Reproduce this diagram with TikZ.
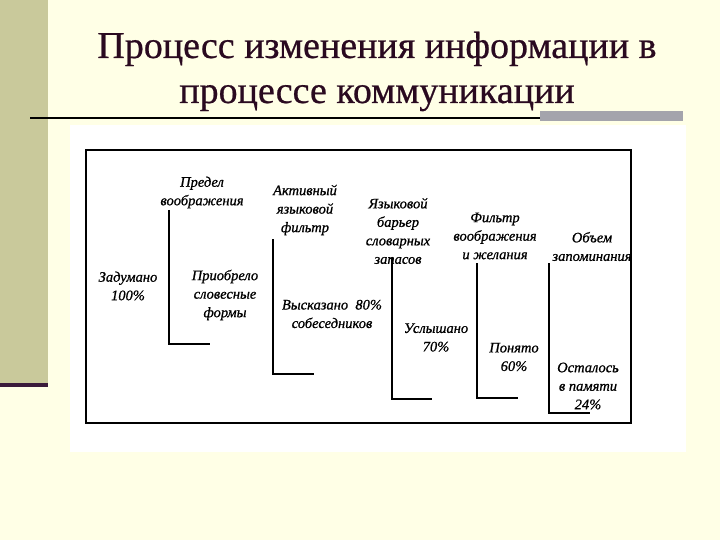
\documentclass[tikz,border=0pt]{standalone}
\usepackage{fontspec}
\setmainfont{Liberation Serif}
\newfontfamily\ttlfont{Liberation Serif}[FakeBold=0.6]
\newfontfamily\lblfont{Liberation Serif}[ItalicFeatures={FakeBold=0.9}]
\definecolor{bgcol}{HTML}{FFFFE6}
\definecolor{stripcol}{HTML}{C9C99B}
\definecolor{stripline}{HTML}{3A1A3A}
\definecolor{titlecol}{HTML}{2A0A20}
\definecolor{barcol}{HTML}{A4A4AC}
\tikzset{
  lbl/.style={font=\lblfont\itshape\fontsize{14.5}{18.5}\selectfont, align=center, inner sep=0pt},
  ttl/.style={font=\ttlfont\fontsize{38}{45}\selectfont, text=titlecol, inner sep=0pt, anchor=base},
  brk/.style={line width=1.7pt, line cap=butt},
}
\begin{document}
\begin{tikzpicture}[x=1pt,y=-1pt]
\useasboundingbox (0,0) rectangle (720,540);
\fill[bgcol] (0,0) rectangle (720,540);
\fill[stripcol] (0,0) rectangle (48,383);
\fill[stripline] (0,383) rectangle (48,387);
% title
\node[ttl] (t1) at (377,58) {Процесс изменения информации в};
\node[ttl] (t2) at (377,103) {процессе коммуникации};
\draw[line width=2pt] (30,118) -- (683,118);
\fill[barcol] (540,111) rectangle (683,121);
% white picture area
\fill[white] (70,125) rectangle (686,452);
\draw[line width=1.8pt] (86,150) rectangle (631,423);
% brackets
\coordinate (b1t) at (169,210); \coordinate (b1b) at (169,344); \coordinate (b1e) at (210,344);
\coordinate (b2t) at (273,239); \coordinate (b2b) at (273,374); \coordinate (b2e) at (314,374);
\coordinate (b3t) at (392,258); \coordinate (b3b) at (392,399); \coordinate (b3e) at (432,399);
\coordinate (b4t) at (477,263); \coordinate (b4b) at (477,398); \coordinate (b4e) at (518,398);
\coordinate (b5t) at (549,263); \coordinate (b5b) at (549,413); \coordinate (b5e) at (590,413);
\draw[brk] (b1t) -- (b1b) -- (b1e);
\draw[brk] (b2t) -- (b2b) -- (b2e);
\draw[brk] (b3t) -- (b3b) -- (b3e);
\draw[brk] (b4t) -- (b4b) -- (b4e);
\draw[brk] (b5t) -- (b5b) -- (b5e);
% labels
\node[lbl] (pred) at (202,192.5) {Предел\\воображения};
\node[lbl] (akt) at (305,210) {Активный\\языковой\\фильтр};
\node[lbl] (yaz) at (398,231) {Языковой\\барьер\\словарных\\запасов};
\node[lbl] (filt) at (495,236) {Фильтр\\воображения\\и желания};
\node[lbl] (obem) at (592,246.5) {Объем\\запоминания};
\node[lbl] (zad) at (128,286) {Задумано\\100\%};
\node[lbl] (prio) at (225,295) {Приобрело\\словесные\\формы};
\node[lbl] (vysk) at (332,314) {Высказано\ \ 80\%\\собеседников};
\node[lbl] (usl) at (436,337.5) {Услышано\\70\%};
\node[lbl] (pon) at (514,357) {Понято\\60\%};
\node[lbl] (ost) at (588,386) {Осталось\\в памяти\\24\%};
\end{tikzpicture}
\end{document}
